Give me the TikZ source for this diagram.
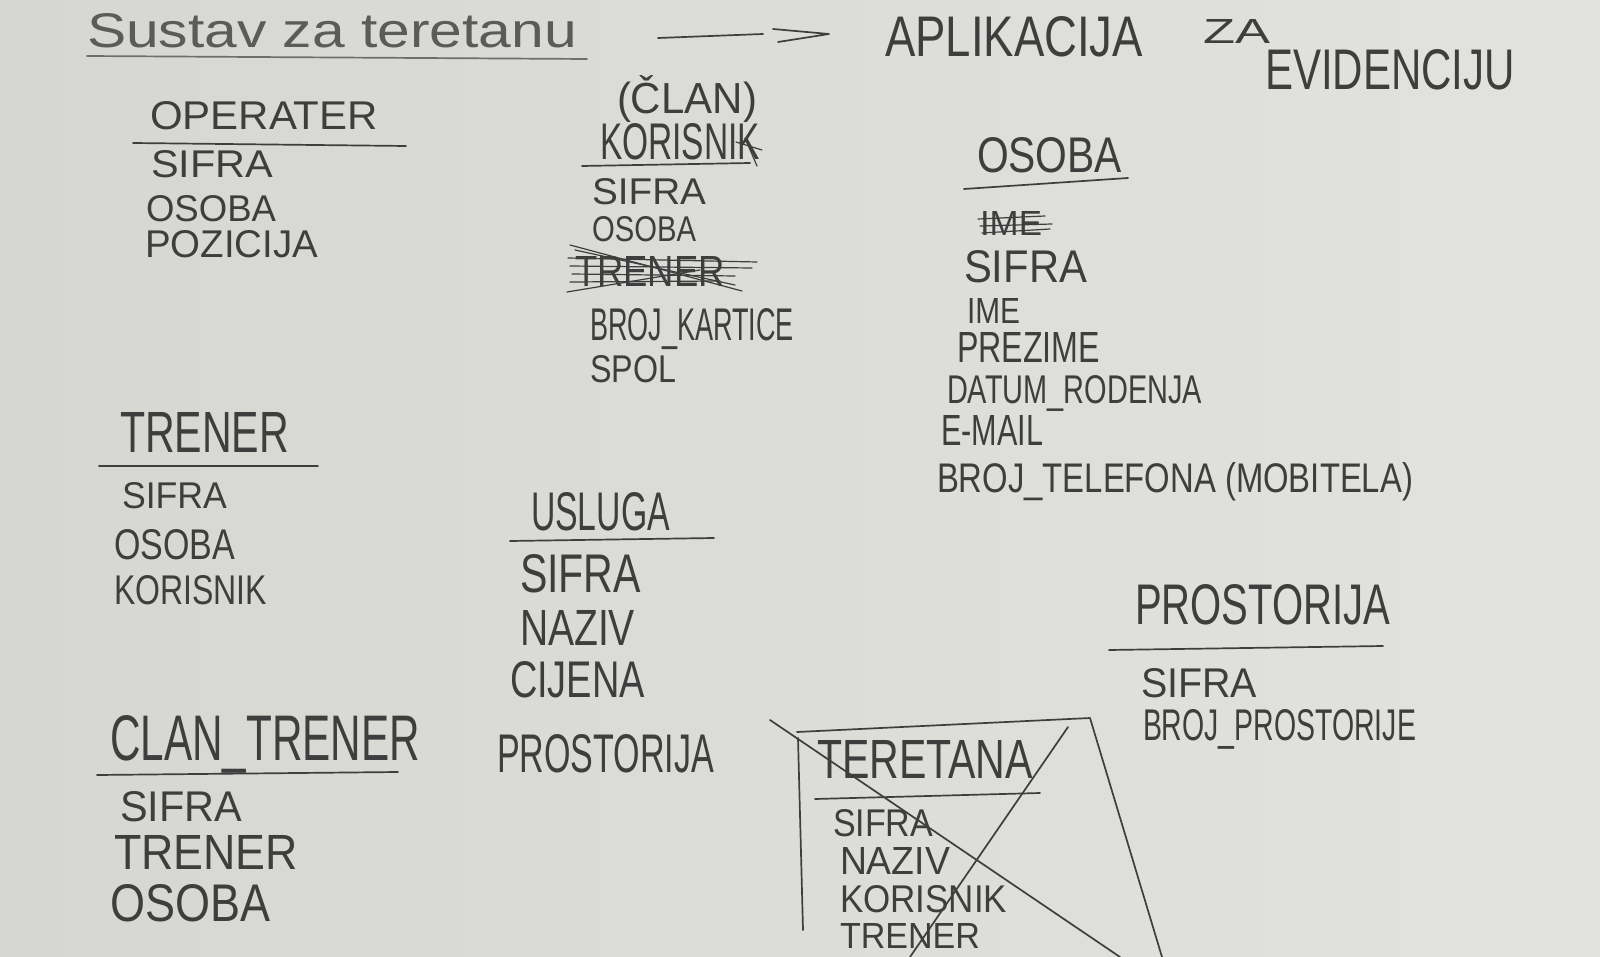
\documentclass[tikz,border=0pt]{standalone}
\usepackage{fontspec}
\setmainfont{Liberation Sans}
\usepackage{graphicx}
\newlength\px \setlength\px{0.5pt}
\newcommand\hw[3]{\resizebox{#1\px}{#2\px}{#3}}
\definecolor{ink}{RGB}{62,62,62}
\definecolor{board}{RGB}{214,214,210}
\definecolor{boardlight}{RGB}{226,226,223}
\tikzset{
  hand/.style={inner sep=0pt, outer sep=0pt, anchor=base west, text=ink},
  stroke/.style={draw=ink, line width=0.85pt, line cap=round, line join=round},
  thinstroke/.style={draw=ink, line width=0.6pt, line cap=round, line join=round}
}
\begin{document}
\begin{tikzpicture}[x=0.5pt,y=-0.5pt]
\clip (0,0) rectangle (1600,957);
\useasboundingbox (0,0) rectangle (1600,957);
\shade[left color=board, right color=boardlight] (0,0) rectangle (1600,957);

% title
\node[hand, text=ink!85] (title) at (87,48) {\hw{490}{34}{Sustav za teretanu}};
\draw[stroke, draw=ink!75] (87,56) -- (587,59);
\coordinate (a1) at (658,38); \coordinate (a2) at (763,34);
\coordinate (h1) at (773,29); \coordinate (h2) at (829,34); \coordinate (h3) at (778,42);
\draw[stroke] (a1) -- (a2);
\draw[stroke] (h1) -- (h2) -- (h3);
\node[hand] (apl) at (885,57) {\hw{258}{40}{APLIKACIJA}};
\node[hand] (za) at (1203,44) {\hw{67}{24}{ZA}};
\node[hand] (evid) at (1265,90) {\hw{250}{40}{EVIDENCIJU}};

% OPERATER
\node[hand] (opH) at (150,130) {\hw{228}{28}{OPERATER}};
\draw[stroke] (133,143) -- (406,146);
\node[hand] (op1) at (151,178) {\hw{122}{27}{SIFRA}};
\node[hand] (op2) at (146,222) {\hw{130}{26}{OSOBA}};
\node[hand] (op3) at (145,257) {\hw{173}{27}{POZICIJA}};

% CLAN / KORISNIK
\node[hand] (kcl) at (617,114) {\hw{140}{38}{(ČLAN)}};
\node[hand] (kH) at (600,160) {\hw{160}{36}{KORISNIK}};
\draw[thinstroke] (736,142) -- (762,150);
\draw[thinstroke] (745,138) -- (757,166);
\draw[stroke] (582,166) -- (750,163);
\node[hand] (k1) at (592,205) {\hw{114}{26}{SIFRA}};
\node[hand] (k2) at (592,242) {\hw{104}{25}{OSOBA}};
\node[hand] (kx) at (575,287) {\hw{150}{30}{TRENER}};
\draw[thinstroke] (570,245) -- (742,291);
\draw[thinstroke] (568,258) -- (757,262);
\draw[thinstroke] (570,266) -- (752,268);
\draw[thinstroke] (572,274) -- (735,276);
\draw[thinstroke] (570,282) -- (720,281);
\draw[thinstroke] (567,292) -- (700,270);
\draw[thinstroke] (575,250) -- (735,285);
\node[hand] (k3) at (590,340) {\hw{204}{32}{BROJ\_KARTICE}};
\node[hand] (k4) at (590,382) {\hw{86}{27}{SPOL}};

% OSOBA
\node[hand] (osH) at (977,173) {\hw{145}{35}{OSOBA}};
\draw[stroke] (964,189) -- (1128,178);
\node[hand] (osx) at (980,236) {\hw{62}{24}{IME}};
\draw[thinstroke] (978,219) -- (1045,216);
\draw[thinstroke] (980,226) -- (1052,224);
\draw[thinstroke] (982,233) -- (1050,229);
\node[hand] (os1) at (964,283) {\hw{123}{32}{SIFRA}};
\node[hand] (os2) at (967,323) {\hw{53}{25}{IME}};
\node[hand] (os3) at (957,363) {\hw{143}{30}{PREZIME}};
\node[hand] (os4) at (947,403) {\hw{255}{28}{DATUM\_RODENJA}};
\node[hand] (os5) at (941,445) {\hw{102}{30}{E-MAIL}};
\node[hand] (os6) at (937,492) {\hw{476}{30}{BROJ\_TELEFONA (MOBITELA)}};

% TRENER
\node[hand] (trH) at (120,452) {\hw{169}{40}{TRENER}};
\draw[stroke] (99,466) -- (318,466);
\node[hand] (tr1) at (122,508) {\hw{105}{26}{SIFRA}};
\node[hand] (tr2) at (114,559) {\hw{121}{30}{OSOBA}};
\node[hand] (tr3) at (114,604) {\hw{153}{29}{KORISNIK}};

% USLUGA
\node[hand] (usH) at (531,530) {\hw{139}{38}{USLUGA}};
\draw[stroke] (510,541) -- (714,538);
\node[hand] (us1) at (520,592) {\hw{121}{38}{SIFRA}};
\node[hand] (us2) at (520,645) {\hw{115}{35}{NAZIV}};
\node[hand] (us3) at (510,697) {\hw{135}{36}{CIJENA}};
\node[hand] (us4) at (497,772) {\hw{217}{38}{PROSTORIJA}};

% CLAN_TRENER
\node[hand] (ctH) at (110,760) {\hw{310}{45}{CLAN\_TRENER}};
\draw[stroke] (97,775) -- (398,772);
\node[hand] (ct1) at (120,821) {\hw{122}{30}{SIFRA}};
\node[hand] (ct2) at (114,869) {\hw{184}{34}{TRENER}};
\node[hand] (ct3) at (110,921) {\hw{160}{37}{OSOBA}};

% PROSTORIJA
\node[hand] (prH) at (1135,624) {\hw{255}{40}{PROSTORIJA}};
\draw[stroke] (1109,650) -- (1383,646);
\node[hand] (pr1) at (1141,697) {\hw{116}{29}{SIFRA}};
\node[hand] (pr2) at (1143,740) {\hw{273}{31}{BROJ\_PROSTORIJE}};

% TERETANA (crossed out)
\coordinate (b1) at (797,732); \coordinate (b2) at (1090,718);
\coordinate (b3) at (1162,957); \coordinate (b4) at (798,738); \coordinate (b5) at (803,930);
\draw[stroke] (b1) -- (b2) -- (b3);
\draw[stroke] (b4) -- (b5);
\node[hand] (teH) at (817,778) {\hw{216}{38}{TERETANA}};
\draw[stroke] (815,799) -- (1040,793);
\node[hand] (te1) at (833,836) {\hw{100}{27}{SIFRA}};
\node[hand] (te2) at (840,874) {\hw{110}{27}{NAZIV}};
\node[hand] (te3) at (840,912) {\hw{167}{27}{KORISNIK}};
\node[hand] (te4) at (840,948) {\hw{140}{25}{TRENER}};
\coordinate (x1) at (770,720); \coordinate (x2) at (1120,957);
\coordinate (x3) at (1068,727); \coordinate (x4) at (910,957);
\draw[stroke] (x1) -- (x2);
\draw[stroke] (x3) -- (x4);
\end{tikzpicture}
\end{document}
